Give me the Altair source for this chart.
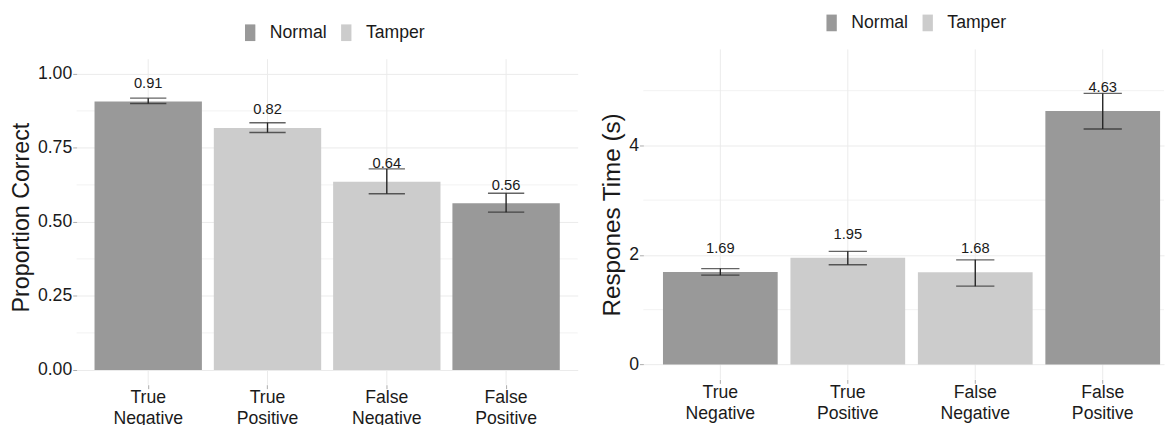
import altair as alt
import pandas as pd

categories = ["True Negative", "True Positive", "False Negative", "False Positive"]
groups = ["Normal", "Tamper", "Tamper", "Normal"]
legend_domain = ["Normal", "Tamper"]
legend_colors = ["#999999", "#CCCCCC"]

prop_values = [0.907, 0.817, 0.636, 0.563]
prop_lo = [0.900, 0.802, 0.595, 0.533]
prop_hi = [0.918, 0.835, 0.679, 0.597]
prop_labels = ["0.91", "0.82", "0.64", "0.56"]
prop_major = [0, 0.25, 0.5, 0.75, 1.0]
prop_minor = [0.125, 0.375, 0.625, 0.875]

rt_values = [1.688, 1.948, 1.682, 4.628]
rt_lo = [1.63, 1.82, 1.43, 4.30]
rt_hi = [1.75, 2.065, 1.91, 4.95]
rt_labels = ["1.69", "1.95", "1.68", "4.63"]
rt_major = [0, 2, 4]
rt_minor = [1, 3, 5]

FONT = "Liberation Sans"
TXT = "#1a1a1a"
GRID = "#EBEBEB"
MINOR = "#F2F2F2"
RECT = "M-0.62,-1H0.62V1H-0.62Z"


def panel(values, lo, hi, labels, major, minor, domain, fmt, title, title_size,
          width, height, grid_top, xscale, label_dy, cap, legend_x, legend_y):
    df = pd.DataFrame({"category": categories, "group": groups, "value": values,
                       "lo": lo, "hi": hi, "label": labels})
    mdf = pd.DataFrame({"m": minor})
    yscale = alt.Scale(domain=domain, nice=False, zero=False)
    yaxis = alt.Axis(values=major, format=fmt, title=title, titleFont=FONT,
                     titleFontSize=title_size, titleFontWeight="normal", titleColor=TXT,
                     titlePadding=4, labelFont=FONT, labelFontSize=18, labelColor=TXT,
                     labelPadding=1, tickSize=4, tickColor="#AAAAAA", domain=False,
                     grid=True, gridColor=GRID, gridWidth=1)
    xaxis = alt.Axis(title=None, labelExpr="split(datum.label, ' ')", labelAngle=0,
                     labelFont=FONT, labelFontSize=18, labelColor=TXT, labelLineHeight=22,
                     labelBaseline="top", labelPadding=0, tickSize=4, tickColor="#AAAAAA",
                     domain=False, grid=False)
    X = alt.X("category:N", sort=categories, scale=xscale, axis=xaxis)
    color = alt.Color("group:N", scale=alt.Scale(domain=legend_domain, range=legend_colors),
                      legend=alt.Legend(orient="none", legendX=legend_x, legendY=legend_y,
                                        direction="horizontal", title=None,
                                        symbolType=RECT, symbolSize=289, symbolStrokeWidth=0,
                                        labelFont=FONT, labelFontSize=18, labelColor=TXT,
                                        labelOffset=11, columnPadding=10, padding=0))
    base = alt.Chart(df)
    minor_rules = alt.Chart(mdf).mark_rule(color=MINOR, strokeWidth=1).encode(
        y=alt.Y("m:Q", scale=yscale, axis=yaxis), x=alt.value(0), x2=alt.value(width))
    vgrid = base.mark_rule(color=GRID, strokeWidth=1).encode(
        x=X, y=alt.value(grid_top), y2=alt.value(height))
    bars = base.mark_bar().encode(x=X, y=alt.Y("value:Q", scale=yscale, axis=yaxis),
                                  y2=alt.datum(0), color=color)
    err = base.mark_rule(color="#222222", strokeWidth=1.4).encode(
        x=X, y=alt.Y("lo:Q", scale=yscale, axis=yaxis), y2="hi:Q")
    cap_lo = base.mark_tick(color="#222222", thickness=1.4, size=cap).encode(
        x=X, y=alt.Y("lo:Q", scale=yscale, axis=yaxis))
    cap_hi = base.mark_tick(color="#222222", thickness=1.4, size=cap).encode(
        x=X, y=alt.Y("hi:Q", scale=yscale, axis=yaxis))
    text = base.mark_text(font=FONT, fontSize=15, color=TXT, dy=label_dy,
                          baseline="middle").encode(
        x=X, y=alt.Y("value:Q", scale=yscale, axis=yaxis), text="label:N")
    return alt.layer(minor_rules, vgrid, bars, err, cap_lo, cap_hi, text).properties(
        width=width, height=height)


left = panel(prop_values, prop_lo, prop_hi, prop_labels, prop_major, prop_minor,
             [-0.05, 1.0828], ".2f", "Proportion Correct", 23.7, 511, 342, 10,
             alt.Scale(paddingInner=0.1, paddingOuter=0.15), -19, 37, 168, -26)
right = panel(rt_values, rt_lo, rt_hi, rt_labels, rt_major, rt_minor,
              [-0.274, 5.754], "d", "Respones Time (s)", 24.7, 531, 336.6, 0,
              alt.Scale(paddingInner=0.1, paddingOuter=0.0923, align=0.833), -24.5, 39, 183, -36)

chart = alt.hconcat(left, right, spacing=21).resolve_scale(
    color="independent", x="independent", y="independent").resolve_legend(
    color="independent").properties(
    padding={"left": 1, "top": 2, "right": 0, "bottom": 0}, background="white"
).configure_view(stroke=None)

chart.save("out.html", embed_options={"renderer": "svg", "actions": False})
